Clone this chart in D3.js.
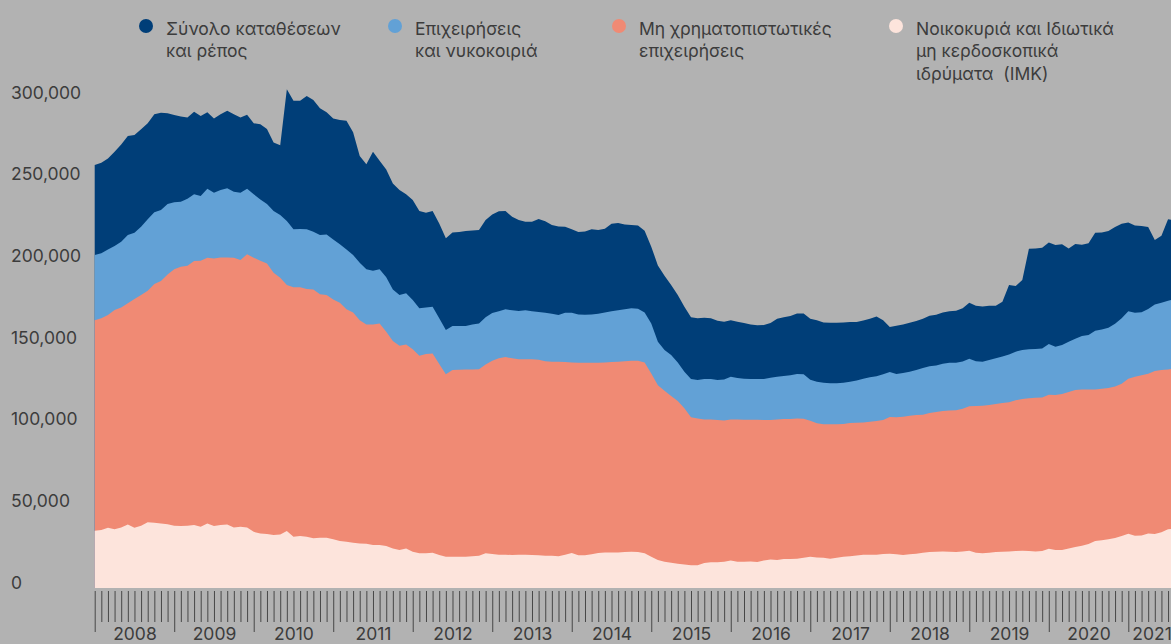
<!DOCTYPE html>
<meta charset="utf-8">
<style>
body {
  margin: 0;
  background: #b2b2b2;
  overflow: hidden;
}

svg {
  display: block;
}

.legend text,
.axis text {
  font-family: Inter, "Noto Sans", sans-serif;
  font-size: 17.5px;
  fill: #3c3c3c;
}

.axis path {
  display: none;
}

.x.axis line {
  stroke: #474747;
  stroke-width: 1px;
}
</style>
<body></body>

<script src="https://cdn.jsdelivr.net/npm/d3@7"></script>
<script>
// monthly figures, Jan 2008 - Aug 2021, in thousands (chart unit x1000)
var months = d3.timeMonth.range(new Date(2008, 0, 1), new Date(2021, 8, 1));
var years = d3.range(2008, 2022);
var yTicks = [0, 50, 100, 150, 200, 250, 300];

// Σύνολο καταθέσεων και ρέπος
var total = [
  259.0, 260.4, 263.0, 267.1, 271.6, 276.7, 277.3, 280.8, 284.5, 290.0,
  291.0, 290.6, 289.6, 288.6, 288.1, 291.6, 289.0, 291.2, 287.5, 290.0,
  292.2, 290.0, 288.1, 289.8, 284.5, 283.9, 281.0, 272.8, 271.0, 305.3,
  298.3, 298.3, 301.2, 298.8, 293.7, 291.2, 287.5, 286.5, 286.1, 279.0,
  264.5, 259.4, 267.1, 261.6, 256.3, 247.7, 243.6, 241.0, 237.5, 230.8,
  229.8, 230.8, 223.2, 214.1, 217.7,
  217.9, 218.5, 218.9, 219.2, 225.3, 228.7, 230.6, 230.8, 227.3, 225.3,
  224.3, 224.3, 225.9, 224.5, 222.2, 221.4, 221.2, 219.6, 217.9, 218.3,
  219.6, 219.2, 220.0, 223.0, 223.4, 222.6, 222.2, 222.0, 218.7, 209.0,
  197.5, 191.2, 185.5, 179.4, 172.2, 165.7, 165.1, 165.5, 165.1, 163.6,
  163.0, 164.0, 163.0, 162.2, 161.4, 160.8, 161.0, 162.2, 164.9, 165.7,
  166.5, 168.1, 168.1, 164.9, 164.0,
  162.6, 162.4, 162.4, 162.6, 162.8, 162.8, 163.8, 164.9, 166.3, 164.0,
  159.8, 160.6, 161.4, 162.4, 163.4, 164.9, 166.7, 167.3, 168.7, 169.4,
  169.8, 171.2, 174.7, 172.8, 172.4, 172.8, 172.8, 175.3, 185.5, 184.9,
  188.5, 207.7, 207.9, 208.3, 211.6, 210.0, 210.4, 207.9, 210.6, 210.2,
  211.0, 217.5, 217.7, 218.5, 221.0, 223.0, 223.8, 222.0, 221.6, 221.0,
  213.0, 215.7, 225.7, 225.3
];

// Επιχειρήσεις και νοικοκυριά
var business = [
  203.9, 204.9, 207.3, 209.4, 212.0, 216.1, 217.5, 221.2, 225.7, 230.0,
  231.4, 235.1, 236.1, 236.5, 238.3, 241.0, 240.0, 244.5, 242.0, 243.6,
  244.7, 242.6, 242.0, 244.5, 241.0, 237.9, 235.1, 230.8, 228.3, 224.7,
  219.6, 219.8, 219.6, 218.1, 216.1, 216.5, 213.4, 210.4, 207.3, 203.9,
  199.2, 195.1, 194.3, 195.1, 190.2, 182.8, 179.4, 180.4, 176.3, 171.2,
  171.8, 172.2, 165.1, 157.9, 160.4,
  160.4, 160.4, 161.4, 162.0, 165.7, 168.3, 169.4, 170.6, 170.0, 169.6,
  170.0, 169.4, 169.0, 168.5, 167.9, 167.1, 168.5, 168.5, 167.5, 167.3,
  167.5, 167.9, 168.7, 169.4, 170.0, 170.6, 171.2, 171.0, 168.7, 162.0,
  150.8, 145.7, 142.6, 138.1, 132.4, 127.9, 127.3, 127.9, 127.9, 127.3,
  127.7, 129.4, 128.5, 128.1, 127.9, 127.9, 127.9, 128.7, 129.4, 129.8,
  130.2, 131.0, 130.8, 127.5, 126.3,
  125.7, 125.3, 125.3, 125.7, 126.3, 127.1, 128.1, 129.1, 129.6, 130.8,
  132.2, 131.0, 131.6, 132.4, 133.4, 134.7, 135.7, 136.3, 137.3, 137.9,
  137.9, 138.7, 140.4, 138.9, 138.5, 139.6, 140.6, 141.8, 143.0, 144.7,
  145.7, 146.1, 146.3, 146.7, 149.4, 147.7, 148.7, 150.8, 152.6, 154.3,
  154.9, 157.5, 158.3, 159.4, 161.8, 165.1, 169.4, 168.5, 168.9, 170.8,
  173.6, 174.7, 175.9, 176.7
];

// Μη χρηματοπιστωτικές επιχειρήσεις
var nonFinancial = [
  164.0, 165.1, 167.1, 170.2, 171.8, 174.3, 176.9, 179.4, 182.0, 186.1,
  187.9, 192.0, 195.1, 196.7, 197.3, 200.2, 200.4, 202.2, 201.8, 202.4,
  202.4, 202.2, 200.8, 204.3, 202.2, 200.4, 198.7, 193.0, 190.0, 185.5,
  184.1, 184.1, 183.0, 182.8, 179.8, 179.4, 176.7, 174.7, 170.6, 168.7,
  164.0, 161.4, 161.4, 162.0, 156.9, 151.2, 148.3, 149.1, 146.1, 142.2,
  143.2, 143.6, 137.1, 130.8, 133.4,
  133.6, 133.8, 133.8, 134.0, 136.9, 139.1, 140.6, 141.4, 140.6, 140.0,
  140.0, 140.0, 139.8, 138.9, 138.5, 138.5, 138.3, 138.1, 137.9, 137.9,
  137.9, 137.9, 138.1, 138.3, 138.5, 138.9, 139.1, 139.1, 138.1, 131.4,
  124.2, 120.8, 117.5, 114.5, 110.0, 104.5, 103.8, 103.2, 103.2, 102.8,
  102.6, 103.2, 103.2, 103.0, 103.0, 103.0, 102.8, 102.8, 103.2, 103.4,
  103.4, 103.8, 103.6, 102.4, 100.8,
  100.2, 100.2, 100.2, 100.4, 101.0, 101.2, 101.4, 101.8, 102.2, 102.8,
  104.7, 104.5, 104.9, 105.5, 105.9, 106.1, 107.1, 107.7, 108.3, 108.7,
  108.9, 109.8, 111.2, 111.4, 111.6, 112.0, 112.6, 113.2, 113.8, 114.9,
  115.7, 116.1, 116.5, 116.7, 118.3, 118.1, 118.7, 120.0, 121.2, 121.6,
  121.6, 121.6, 122.0, 122.4, 123.4, 125.1, 128.1, 129.4, 130.2, 131.2,
  132.8, 133.4, 133.8, 134.3
];

// Νοικοκυριά και ΙΜΚ
var households = [
  35.1, 35.5, 36.9, 35.9, 37.1, 38.9, 36.9, 38.1, 40.2, 40.0,
  39.5, 39.1, 38.1, 37.9, 38.1, 38.5, 37.5, 39.5, 37.9, 38.5,
  38.9, 37.1, 37.5, 37.1, 34.4, 33.4, 33.0, 32.4, 32.8, 34.9,
  31.4, 31.8, 31.4, 30.4, 30.8, 30.8, 29.8, 28.7, 28.3, 27.7,
  27.3, 27.1, 26.3, 26.3, 25.7, 24.2, 23.2, 24.2, 22.2, 21.2,
  21.2, 21.6, 20.2, 19.1, 19.1,
  19.1, 19.1, 19.5, 19.8, 21.2, 20.8, 20.4, 20.4, 20.2, 20.4,
  20.4, 20.2, 20.0, 19.8, 19.8, 19.5, 20.4, 21.4, 20.0, 20.0,
  20.6, 21.4, 21.8, 21.8, 21.8, 22.0, 22.2, 22.0, 21.2, 19.1,
  17.1, 16.1, 15.5, 14.8, 14.4, 14.0, 14.0, 15.3, 15.7, 15.7,
  16.1, 16.9, 16.1, 16.1, 16.3, 15.9, 16.9, 17.5, 17.1, 17.7,
  17.7, 17.9, 18.5, 19.1, 18.7,
  18.5, 17.9, 18.5, 19.1, 19.5, 19.9, 20.4, 20.4, 20.4, 20.8,
  21.0, 20.6, 20.2, 20.6, 21.0, 21.6, 22.0, 22.2, 22.4, 22.2,
  22.0, 22.4, 22.8, 21.6, 21.2, 21.6, 22.0, 22.2, 22.4, 22.6,
  22.8, 22.6, 22.4, 22.6, 24.0, 23.2, 23.2, 24.2, 25.1, 25.9,
  26.9, 28.7, 29.3, 29.9, 30.6, 31.8, 33.2, 32.0, 32.2, 33.4,
  33.0, 34.2, 35.9, 36.5
];

var series = [
  { name: ["Σύνολο καταθέσεων", "και ρέπος"], values: total, color: "#003e78" },
  { name: ["Επιχειρήσεις", "και νυκοκοιριά"], values: business, color: "#62a1d6" },
  { name: ["Μη χρηματοπιστωτικές", "επιχειρήσεις"], values: nonFinancial, color: "#f08a74" },
  { name: ["Νοικοκυριά και Ιδιωτικά", "μη κερδοσκοπικά", "ιδρύματα  (ΙΜΚ)"], values: households, color: "#fde4dc" }
];

var width = 1171;
var height = 644;

var svg = d3.select("body")
  .append("svg")
    .attr("width", width)
    .attr("height", height);

// month index -> x ; Jan 2008 sits on index 0, Jan 2021 on index 156
var x = d3.scaleLinear()
  .domain([0, 156])
  .range([94.7, 1128.3]);

var y = d3.scaleLinear()
  .domain([0, 300])
  .range([588, 98]);

var area = d3.area()
  .x(function(d, i) { return x(i); })
  .y0(y(0))
  .y1(function(d) { return y(d); });

svg.selectAll("path.area")
  .data(series)
  .enter().append("path")
    .attr("class", "area")
    .attr("fill", function(d) { return d.color; })
    .attr("d", function(d) { return area(d.values); });

// y axis, labels sit on the value line
var yAxis = d3.axisLeft(y)
  .tickValues(yTicks)
  .tickSize(0)
  .tickFormat(function(d) { return d3.format(",")(d * 1000); });

var gy = svg.append("g")
  .attr("class", "y axis")
  .attr("transform", "translate(11,0)")
  .call(yAxis);

gy.attr("text-anchor", "start");
gy.selectAll("text")
  .attr("x", 0)
  .attr("dy", 0);

// monthly ticks, longer at each January
var last = months.length - 1;
var monthAxis = d3.axisBottom(x)
  .tickValues(d3.range(0, last))
  .tickSize(31)
  .tickFormat("");

var gm = svg.append("g")
  .attr("class", "x axis")
  .attr("transform", "translate(0,591)")
  .call(monthAxis);

gm.selectAll(".tick line")
  .filter(function(d) { return months[d].getMonth() === 0; })
  .attr("y2", 41);

// year labels, centred on the months drawn for that year
var yearMid = years.map(function(yr, k) {
  var a = k * 12;
  var b = Math.min(a + 12, last);
  return (a + b) / 2;
});

var yearAxis = d3.axisBottom(x)
  .tickValues(yearMid)
  .tickSize(0)
  .tickFormat(function(d, i) { return years[i]; });

var gx = svg.append("g")
  .attr("class", "x axis years")
  .attr("transform", "translate(0,639.5)")
  .call(yearAxis);

gx.selectAll("text")
  .attr("y", 0)
  .attr("dy", 0);

// legend
var legendX = [146, 395, 619, 896];

var legend = svg.selectAll(".legend")
  .data(series)
  .enter().append("g")
    .attr("class", "legend")
    .attr("transform", function(d, i) { return "translate(" + legendX[i] + ",0)"; });

legend.append("circle")
  .attr("cx", 0)
  .attr("cy", 26)
  .attr("r", 7)
  .attr("fill", function(d) { return d.color; });

legend.append("text")
  .selectAll("tspan")
  .data(function(d) { return d.name; })
  .enter().append("tspan")
    .attr("x", 20)
    .attr("y", function(d, i) { return 34.5 + i * 22.5; })
    .style("white-space", "pre")
    .text(function(d) { return d; });
</script>
